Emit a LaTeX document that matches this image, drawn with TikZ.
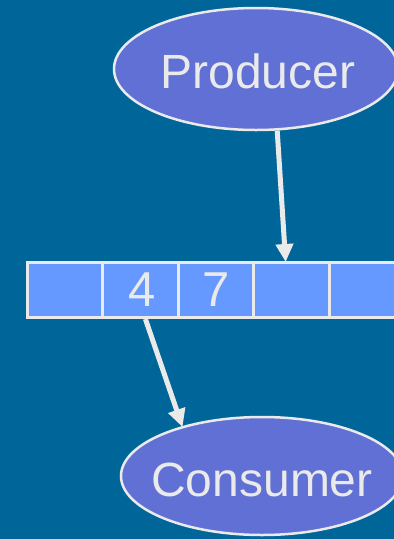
\documentclass[tikz,border=0pt]{standalone}
\usepackage{fontspec}
\setmainfont{Liberation Sans}
\usetikzlibrary{shapes.geometric,arrows.meta}
\definecolor{bg}{RGB}{0,102,153}
\definecolor{ovalfill}{RGB}{97,112,212}
\definecolor{cellfill}{RGB}{102,153,255}
\definecolor{ink}{RGB}{234,234,234}
\tikzset{
  oval/.style={ellipse, draw=ink, line width=2.5pt, fill=ovalfill, inner sep=0pt},
  ovaltext/.style={text=ink, font=\fontsize{48}{50}\selectfont},
  slot/.style={rectangle, draw=ink, line width=3pt, fill=cellfill, inner sep=0pt,
    minimum width=75.6pt, minimum height=55pt, text=ink,
    font=\fontsize{49}{50}\selectfont},
  flow/.style={draw=ink, line width=5pt, -{Triangle[length=18pt,width=17pt]}, shorten >=-1pt}
}
\begin{document}
\begin{tikzpicture}[x=1pt,y=-1pt]
  \fill[bg] (0,0) rectangle (394,539);
  \useasboundingbox (0,0) rectangle (394,539);
  \clip (0,0) rectangle (394,539);

  % producer and consumer processes (text as a centred label keeps the oval size fixed)
  \node[oval, minimum width=284pt, minimum height=122pt,
        label={[ovaltext, xshift=2pt, yshift=-2pt]center:Producer}] (prod) at (256,69) {};
  \node[oval, minimum width=282pt, minimum height=118pt,
        label={[ovaltext, yshift=-4pt]center:Consumer}] (cons) at (262,476) {};

  % the shared buffer
  \node[slot] (c1) at (64.8,290) {};
  \node[slot] (c2) at (140.4,290) {\hspace*{3pt}4};
  \node[slot] (c3) at (216.0,290) {7};
  \node[slot] (c4) at (291.6,290) {};
  \node[slot] (c5) at (367.2,290) {};

  % producer writes, consumer reads
  \draw[flow] (prod.-71) -- ([xshift=-6pt]c4.north);
  \draw[flow] ([xshift=5pt]c2.south) -- (cons.148);
\end{tikzpicture}
\end{document}
